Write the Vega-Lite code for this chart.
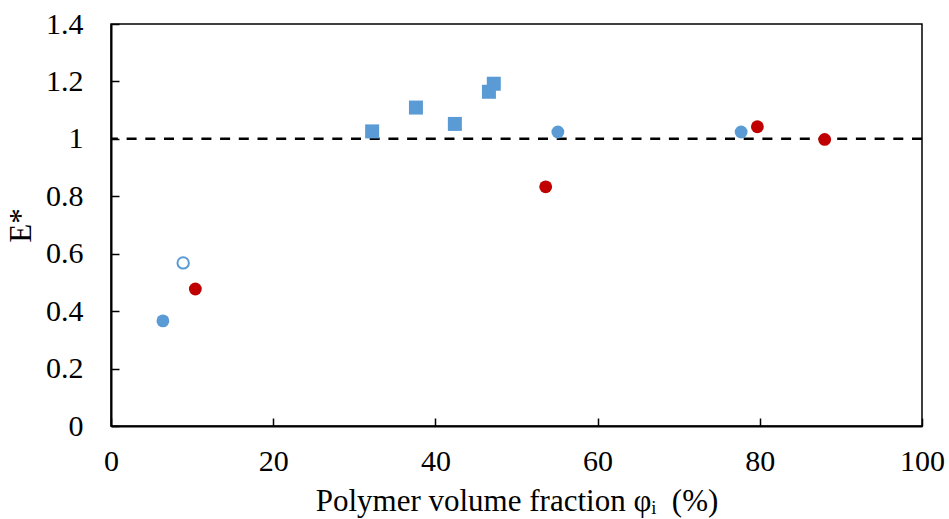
{
  "$schema": "https://vega.github.io/schema/vega-lite/v6.json",
  "width": 811,
  "height": 402,
  "autosize": "none",
  "padding": {"left": 111, "top": 24, "right": 27, "bottom": 93},
  "background": "white",
  "config": {
    "view": {"stroke": "black", "strokeWidth": 1.5},
    "font": "Liberation Serif",
    "axis": {
      "labelFont": "Liberation Serif",
      "titleFont": "Liberation Serif",
      "labelFontSize": 30,
      "titleFontSize": 31,
      "titleFontWeight": "normal",
      "labelColor": "black",
      "titleColor": "black",
      "domainColor": "black",
      "domainWidth": 2,
      "tickColor": "black",
      "tickWidth": 1.5,
      "tickSize": -8,
      "grid": false,
      "labelFlush": false
    }
  },
  "datasets": {
    "pts": [
      {"x": 6.4, "y": 0.366, "series": "blue circle"},
      {"x": 55.1, "y": 1.024, "series": "blue circle"},
      {"x": 77.7, "y": 1.024, "series": "blue circle"},
      {"x": 8.9, "y": 0.568, "series": "blue open"},
      {"x": 10.4, "y": 0.477, "series": "red circle"},
      {"x": 53.6, "y": 0.833, "series": "red circle"},
      {"x": 79.7, "y": 1.042, "series": "red circle"},
      {"x": 88.0, "y": 0.998, "series": "red circle"},
      {"x": 32.2, "y": 1.026, "series": "blue square"},
      {"x": 37.6, "y": 1.109, "series": "blue square"},
      {"x": 42.4, "y": 1.052, "series": "blue square"},
      {"x": 46.6, "y": 1.164, "series": "blue square"},
      {"x": 47.2, "y": 1.192, "series": "blue square"}
    ]
  },
  "layer": [
    {
      "data": {"values": [{"ref": 1}]},
      "mark": {"type": "rule", "color": "black", "strokeWidth": 2.5, "strokeDash": [10, 8.7]},
      "encoding": {
        "y": {"field": "ref", "type": "quantitative", "scale": {"domain": [0, 1.4]}}
      }
    },
    {
      "data": {"name": "pts"},
      "transform": [{"filter": "datum.series === 'blue square'"}],
      "mark": {"type": "square", "filled": true, "color": "#5B9BD5", "size": 196, "opacity": 1},
      "encoding": {
        "x": {"field": "x", "type": "quantitative"},
        "y": {"field": "y", "type": "quantitative"}
      }
    },
    {
      "data": {"name": "pts"},
      "transform": [{"filter": "datum.series === 'blue circle'"}],
      "mark": {"type": "circle", "color": "#5B9BD5", "size": 165, "opacity": 1},
      "encoding": {
        "x": {"field": "x", "type": "quantitative"},
        "y": {"field": "y", "type": "quantitative"}
      }
    },
    {
      "data": {"name": "pts"},
      "transform": [{"filter": "datum.series === 'blue open'"}],
      "mark": {"type": "point", "shape": "circle", "filled": false, "color": "#5B9BD5", "strokeWidth": 2, "size": 130, "opacity": 1},
      "encoding": {
        "x": {"field": "x", "type": "quantitative"},
        "y": {"field": "y", "type": "quantitative"}
      }
    },
    {
      "data": {"name": "pts"},
      "transform": [{"filter": "datum.series === 'red circle'"}],
      "mark": {"type": "circle", "color": "#C00000", "size": 165, "opacity": 1},
      "encoding": {
        "x": {
          "field": "x", "type": "quantitative",
          "scale": {"domain": [0, 100], "nice": false},
          "axis": {"values": [0, 20, 40, 60, 80, 100], "labelPadding": 28, "title": "Polymer volume fraction φᵢ\u00a0\u00a0(%)", "titlePadding": 10}
        },
        "y": {
          "field": "y", "type": "quantitative",
          "scale": {"domain": [0, 1.4], "nice": false},
          "axis": {"values": [0, 0.2, 0.4, 0.6, 0.8, 1, 1.2, 1.4], "format": "~g", "labelPadding": 36, "title": "E*", "titlePadding": 8}
        }
      }
    }
  ]
}
